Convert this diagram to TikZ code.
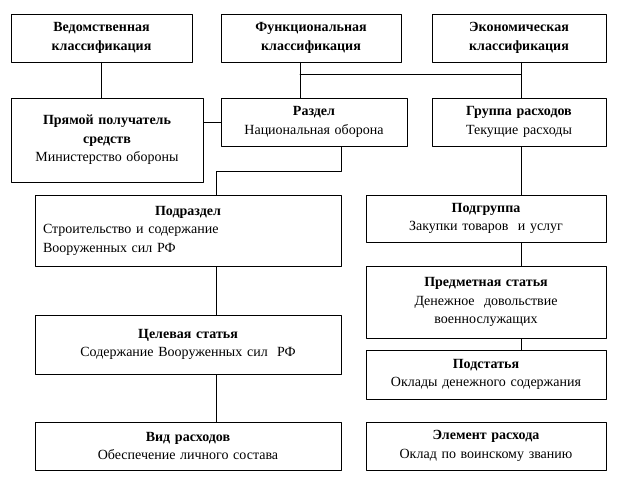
\documentclass[tikz,border=0pt]{standalone}
\usepackage{fontspec}
\setmainfont{Liberation Serif}
\usetikzlibrary{positioning}

\tikzset{
  box/.style={draw,line width=0.8pt,inner sep=2pt,align=center,font=\fontsize{14}{18.5}\selectfont},
  link/.style={line width=0.8pt}
}
% box from corner (x1,y1) to (x2,y2), pixel units
\newcommand{\bx}[6]{%
  \node[box,minimum width={(#4-#2)*1pt},minimum height={(#5-#3)*1pt},text width={(#4-#2-16)*1pt}]
    (#1) at ({(#2+#4)/2},{(#3+#5)/2}) {#6};}

\begin{document}
\begin{tikzpicture}[line cap=round,line join=round,x=1pt,y=-1pt]
\useasboundingbox (0,0) rectangle (618,484);
% top row
\bx{ved}{11}{14}{192}{62}{\textbf{Ведомственная}\\\textbf{классификация}}
\bx{fun}{221}{14}{401}{62}{\textbf{Функциональная}\\\textbf{классификация}}
\bx{eko}{432}{14}{606}{62}{\textbf{Экономическая}\\\textbf{классификация}}
% second row
\bx{pol}{11}{98}{203}{182}{\textbf{Прямой получатель}\\\textbf{средств}\\Министерство обороны\\[14pt]}
\bx{raz}{221}{98}{407}{146}{\textbf{Раздел}\\Национальная оборона}
\bx{grp}{432}{98}{606}{146}{\textbf{Группа расходов}\\Текущие расходы}
% left column
\bx{podr}{35}{195}{341}{266}{\textbf{Подраздел}\\\raggedright Строительство и содержание\\Вооруженных сил РФ\\[4pt]}
\bx{cel}{35}{315}{341}{374}{\textbf{Целевая статья}\\Содержание Вооруженных сил~~РФ\\[8pt]}
\bx{vid}{35}{422}{341}{470}{\textbf{Вид расходов}\\Обеспечение личного состава}
% right column
\bx{pgr}{366}{195}{606}{242}{\textbf{Подгруппа}\\Закупки товаров~~и услуг}
\bx{pst}{366}{266}{606}{338}{\textbf{Предметная статья}\\Денежное~~довольствие\\военнослужащих}
\bx{sub}{366}{350}{606}{399}{\textbf{Подстатья}\\Оклады денежного содержания}
\bx{elm}{366}{422}{606}{470}{\textbf{Элемент расхода}\\Оклад по воинскому званию}
% connectors
\coordinate (j1) at (300,74);
\coordinate (j2) at (521,74);
\coordinate (e1) at (341,171);
\coordinate (e2) at (216,171);
\draw[link] (ved) -- (ved|-pol.north);
\draw[link] (fun.south-|j1) -- (raz.north-|j1);
\draw[link] (eko.south-|j2) -- (grp.north-|j2);
\draw[link] (j1) -- (j2);
\draw[link] (pol.east|-raz) -- (raz.west);
\draw[link] (raz.south-|e1) -- (e1) -- (e2) -- (podr.north-|e2);
\draw[link] (podr.south-|e2) -- (cel.north-|e2);
\draw[link] (cel.south-|e2) -- (vid.north-|e2);
\draw[link] (grp.south-|j2) -- (pgr.north-|j2);
\draw[link] (pgr.south-|j2) -- (pst.north-|j2);
\draw[link] (pst.south-|j2) -- (sub.north-|j2);
\end{tikzpicture}
\end{document}
